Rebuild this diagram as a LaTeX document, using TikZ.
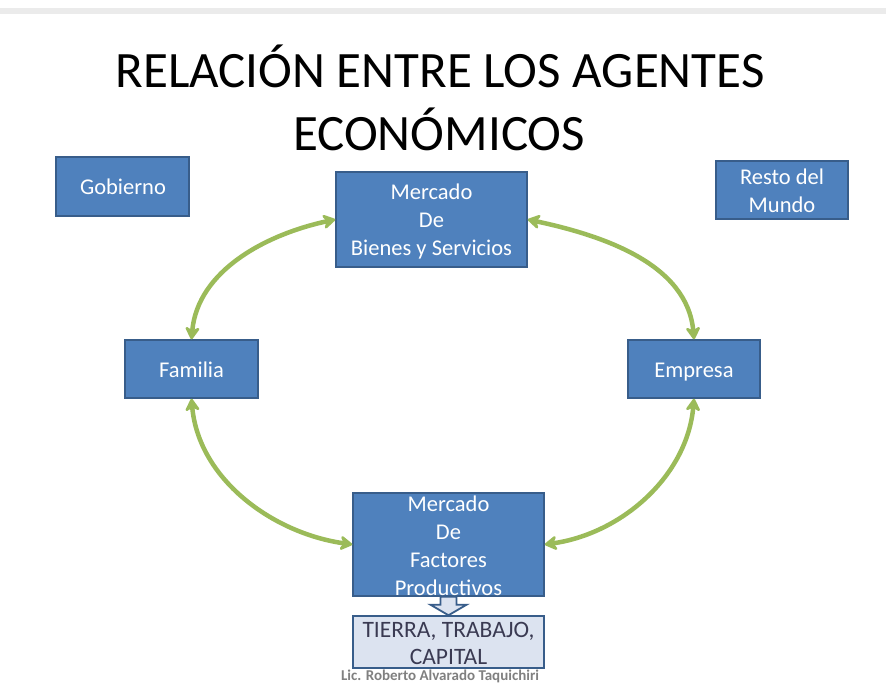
\documentclass[tikz,border=0pt]{standalone}
\usepackage{fontspec}
\setmainfont{Carlito}
\usetikzlibrary{arrows.meta,calc}
\definecolor{boxblue}{HTML}{4F81BD}
\definecolor{boxedge}{HTML}{385D8A}
\definecolor{arrgreen}{HTML}{9BBB59}
\definecolor{lightbox}{HTML}{DCE3F0}
\definecolor{darktext}{HTML}{3A3A52}
\definecolor{barcol}{HTML}{EBEBEB}
\tikzset{
  bluebox/.style={draw=boxedge, line width=1.5pt, fill=boxblue, inner sep=0pt},
  boxtext/.style={text=white, font=\fontsize{22.5}{28}\selectfont, align=center, inner sep=0pt},
  titletext/.style={font=\fontsize{51}{60}\selectfont, inner sep=0pt, anchor=base},
  flow/.style={draw=arrgreen, line width=4.5pt,
    {Stealth[length=15pt,width=18pt,inset=5pt,round]}-{Stealth[length=15pt,width=18pt,inset=5pt,round]}},
}
\begin{document}
\begin{tikzpicture}[x=1pt,y=-1pt]
\useasboundingbox (0,0) rectangle (886,694);
\fill[white] (0,0) rectangle (886,694);
\fill[barcol] (0,8) rectangle (886,13.5);
% title
\node[titletext] (title1) at (440,87) {RELACIÓN ENTRE LOS AGENTES};
\node[titletext] (title2) at (439,150) {ECONÓMICOS};
% boxes
\node[bluebox, minimum width=133pt, minimum height=59pt] (gob) at (122.5,186.5) {};
\node[boxtext, anchor=base] at (123,194) {Gobierno};
\node[bluebox, minimum width=191pt, minimum height=95pt] (mb) at (431.5,219.5) {};
\node[boxtext] at ($(mb.center)+(0,2)$) {Mercado\\De\\Bienes y Servicios};
\node[bluebox, minimum width=132pt, minimum height=58pt] (rm) at (782,190) {};
\node[boxtext] at ($(rm.center)+(0,1)$) {Resto del\\Mundo};
\node[bluebox, minimum width=133pt, minimum height=58pt] (fam) at (191.5,369) {};
\node[boxtext, anchor=base] at (191.5,377) {Familia};
\node[bluebox, minimum width=132pt, minimum height=58pt] (emp) at (694,369) {};
\node[boxtext, anchor=base] at (694,377) {Empresa};
\node[bluebox, minimum width=191pt, minimum height=103pt] (mf) at (448.5,544.5) {};
\node[boxtext] at ($(mf.center)+(0,1)$) {Mercado\\De\\Factores\\Productivos};
\node[draw=boxedge, line width=1.5pt, fill=lightbox, minimum width=191pt, minimum height=52pt, inner sep=0pt] (tie) at (448.5,642) {};
\node[text=darktext, font=\fontsize{23.5}{27}\selectfont, align=center, inner sep=0pt] at ($(tie.center)+(0,1.5)$) {TIERRA, TRABAJO,\\CAPITAL};
\node[text=gray, font=\bfseries\fontsize{15}{17}\selectfont, inner sep=0pt] (foot) at (440,676) {Lic. Roberto Alvarado Taquichiri};
% block arrow down
\draw[draw=boxedge, line width=1.8pt, fill=lightbox, line join=miter]
  ($(mf.south)+(-8,0)$) -- ($(mf.south)+(8,0)$) -- ($(mf.south)+(8,8)$) -- ($(mf.south)+(18,8)$)
  -- ($(tie.north)+(0,0)$) -- ($(mf.south)+(-18,8)$) -- ($(mf.south)+(-8,8)$) -- cycle;
% flows
\draw[flow] (mb.west) to[out=192, in=85, looseness=0.95] (fam.north);
\draw[flow] (mb.east) to[out=-12, in=95, looseness=0.95] (emp.north);
\draw[flow] (fam.south) to[out=-85, in=172, looseness=0.95] (mf.west);
\draw[flow] (emp.south) to[out=-95, in=8, looseness=0.95] (mf.east);
\end{tikzpicture}
\end{document}
